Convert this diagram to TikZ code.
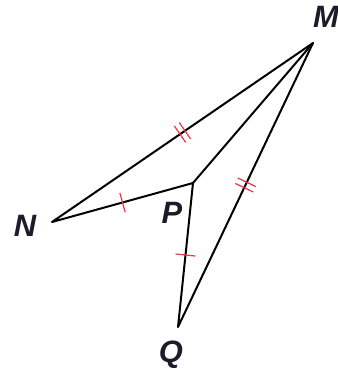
\documentclass[tikz,border=0pt]{standalone}
\usepackage{fontspec}
\setsansfont{Liberation Sans}
\usetikzlibrary{calc}
\definecolor{ink}{HTML}{1B1B2A}
\definecolor{tickred}{HTML}{E0394A}

\begin{document}
\begin{tikzpicture}[x=1bp,y=-1bp,
    font=\sffamily\bfseries\itshape\fontsize{31}{31}\selectfont,text=ink,
    side/.style={line width=2bp,line join=round},
    tick/.style={tickred,line width=1.2bp},
    vlabel/.style={inner sep=0pt}]
  \useasboundingbox (0,0) rectangle (338,374);

  \coordinate (M) at (313,43);
  \coordinate (N) at (52,222);
  \coordinate (P) at (193,183);
  \coordinate (Q) at (178,327);

  \draw[side] (M)--(N)--(P)--(Q)--cycle;
  \draw[side] (P)--(M);

  % equal-length marks
  \foreach \a/\b/\s in {N/M/-3bp,N/M/3bp,M/Q/-3bp,M/Q/3bp,
                        N/P/0bp,P/Q/0bp}
    \draw[tick] ($(\a)!.5!(\b)!\s!(\b)!10bp!90:(\b)$)
             -- ($(\a)!.5!(\b)!\s!(\b)!10bp!-90:(\b)$);

  \node[vlabel] (lM) at (326,16.5) {M};
  \node[vlabel] (lN) at (25,226) {N};
  \node[vlabel] (lP) at (172,213) {P};
  \node[vlabel] (lQ) at (171,355) {Q};
\end{tikzpicture}
\end{document}
